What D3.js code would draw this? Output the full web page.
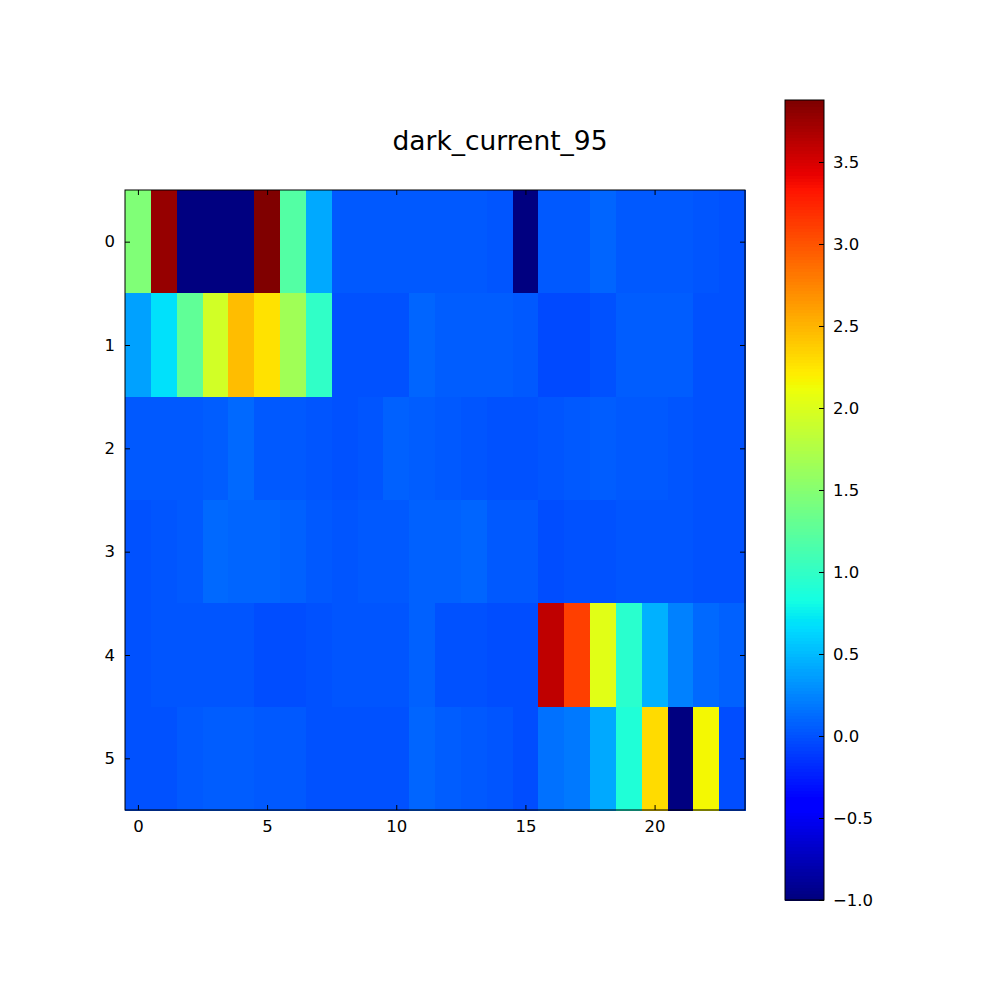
<!DOCTYPE html>
<html>
<head>
<meta charset="utf-8">
<script src="https://cdn.jsdelivr.net/npm/d3@7"></script>
<style>
  html, body { margin: 0; padding: 0; background: #fff; }
  svg text { font-family: "DejaVu Sans", sans-serif; fill: #000; }
</style>
</head>
<body>
<svg id="chart" width="1000" height="1000"></svg>
<script>
// ---- data ----
const title = "dark_current_95";
const xTickValues = [0, 5, 10, 15, 20];
const yTickValues = [0, 1, 2, 3, 4, 5];
const colorTicks = [-1.0, -0.5, 0.0, 0.5, 1.0, 1.5, 2.0, 2.5, 3.0, 3.5];
const vMin = -1.0;
const vMax = 3.878;

const row0 = [1.46, 3.77, -1.0, -1.0, -1.0, 3.878, 1.21, 0.42, 0.031, 0.031, 0.04, 0.04, 0.04, 0.031, 0.016, -1.0, 0.031, 0.031, 0.088, 0.031, 0.031, 0.031, 0.016, -0.008];
const row1 = [0.375, 0.68, 1.28, 1.94, 2.45, 2.26, 1.66, 0.99, -0.008, 0.002, 0.002, 0.088, 0.059, 0.059, 0.059, 0.031, -0.046, -0.046, -0.008, 0.059, 0.059, 0.059, 0.002, 0.002];
const row2 = [0.04, 0.04, 0.031, 0.059, 0.107, 0.031, 0.04, 0.016, 0.002, 0.016, 0.078, 0.059, 0.04, 0.016, 0.002, -0.008, 0.016, 0.031, 0.059, 0.04, 0.04, 0.016, 0.002, -0.008];
const row3 = [-0.008, 0.016, 0.031, 0.107, 0.088, 0.088, 0.078, 0.031, 0.016, 0.031, 0.04, 0.078, 0.078, 0.088, 0.04, 0.031, -0.027, -0.008, -0.008, 0.016, 0.016, 0.016, 0.002, 0.002];
const row4 = [0.002, 0.016, 0.016, 0.016, 0.016, -0.017, -0.027, -0.008, 0.016, 0.016, 0.016, 0.069, 0.002, 0.002, -0.017, -0.027, 3.61, 3.11, 2.03, 0.946, 0.452, 0.222, 0.107, 0.069];
const row5 = [-0.008, -0.008, 0.031, 0.05, 0.05, 0.031, 0.031, -0.008, -0.008, -0.008, 0.002, 0.088, 0.059, 0.031, 0.016, -0.017, 0.146, 0.184, 0.413, 0.90, 2.30, -1.0, 2.16, -0.027];
const rows = [row0, row1, row2, row3, row4, row5];

// ---- jet colormap (matplotlib segment data) ----
const jetR = [[0, 0], [0.35, 0], [0.66, 1], [0.89, 1], [1, 0.5]];
const jetG = [[0, 0], [0.125, 0], [0.375, 1], [0.64, 1], [0.91, 0], [1, 0]];
const jetB = [[0, 0.5], [0.11, 1], [0.34, 1], [0.65, 0], [1, 0]];
function seg(pts, t) {
  for (let i = 1; i < pts.length; i++) {
    if (t <= pts[i][0]) {
      const [x0, y0] = pts[i - 1], [x1, y1] = pts[i];
      return y0 + (y1 - y0) * (t - x0) / (x1 - x0);
    }
  }
  return pts[pts.length - 1][1];
}
function jet(t) {
  t = Math.max(0, Math.min(1, t));
  t = Math.min(255, Math.floor(t * 256)) / 255;
  const r = Math.round(255 * seg(jetR, t));
  const g = Math.round(255 * seg(jetG, t));
  const b = Math.round(255 * seg(jetB, t));
  return `rgb(${r},${g},${b})`;
}
const norm = d3.scaleLinear().domain([vMin, vMax]).range([0, 1]).clamp(true);
const color = v => jet(norm(v));

// ---- layout ----
const svg = d3.select("#chart");
const plot = { left: 125, right: 745, top: 190, bottom: 810 };
const cbar = { left: 785, right: 824, top: 100, bottom: 900 };
const nCols = row0.length, nRows = rows.length;

const x = d3.scaleLinear().domain([-0.5, nCols - 0.5]).range([plot.left, plot.right]);
const y = d3.scaleLinear().domain([-0.5, nRows - 0.5]).range([plot.top, plot.bottom]);
const cy = d3.scaleLinear().domain([vMin, vMax]).range([cbar.bottom, cbar.top]);

// title
svg.append("text")
  .attr("x", 500)
  .attr("y", 150)
  .attr("text-anchor", "middle")
  .style("font-size", "26.5px")
  .text(title);

// cells
const cells = [];
rows.forEach((r, i) => r.forEach((v, j) => cells.push({ i, j, v })));
svg.append("g").attr("shape-rendering", "crispEdges")
  .selectAll("rect").data(cells).join("rect")
  .attr("x", d => x(d.j - 0.5))
  .attr("y", d => y(d.i - 0.5))
  .attr("width", d => x(d.j + 0.5) - x(d.j - 0.5) + 0.5)
  .attr("height", d => y(d.i + 0.5) - y(d.i - 0.5) + 0.5)
  .attr("fill", d => color(d.v));

// axes (ticks inward, on all four sides)
const tl = 5;
const fmtMinus = d => String(d).replace("-", "\u2212");
function styleAxis(g) {
  g.select(".domain").remove();
  g.selectAll(".tick line").attr("stroke", "#000").attr("stroke-width", 1);
  g.selectAll(".tick text").style("font-size", "16.5px").style("font-family", "DejaVu Sans, sans-serif");
}
svg.append("g").attr("transform", `translate(0,${plot.bottom})`)
  .call(d3.axisBottom(x).tickValues(xTickValues).tickSizeInner(-tl).tickSizeOuter(0).tickPadding(10).tickFormat(fmtMinus))
  .call(styleAxis);
svg.append("g").attr("transform", `translate(0,${plot.top})`)
  .call(d3.axisTop(x).tickValues(xTickValues).tickSizeInner(-tl).tickSizeOuter(0).tickFormat(""))
  .call(styleAxis);
svg.append("g").attr("transform", `translate(${plot.left},0)`)
  .call(d3.axisLeft(y).tickValues(yTickValues).tickSizeInner(-tl).tickSizeOuter(0).tickPadding(10).tickFormat(fmtMinus))
  .call(styleAxis);
svg.append("g").attr("transform", `translate(${plot.right},0)`)
  .call(d3.axisRight(y).tickValues(yTickValues).tickSizeInner(-tl).tickSizeOuter(0).tickFormat(""))
  .call(styleAxis);

svg.append("rect")
  .attr("x", plot.left).attr("y", plot.top)
  .attr("width", plot.right - plot.left).attr("height", plot.bottom - plot.top)
  .attr("fill", "none").attr("stroke", "#000").attr("stroke-width", 1);

// colorbar
const nSteps = 256;
const steps = d3.range(nSteps).map(k => vMin + (vMax - vMin) * k / nSteps);
const stepH = (vMax - vMin) / nSteps;
svg.append("g").attr("shape-rendering", "crispEdges")
  .selectAll("rect").data(steps).join("rect")
  .attr("x", cbar.left)
  .attr("width", cbar.right - cbar.left)
  .attr("y", d => cy(d + stepH))
  .attr("height", d => cy(d) - cy(d + stepH) + 0.6)
  .attr("fill", d => color(d + stepH / 2));

svg.append("g").attr("transform", `translate(${cbar.right},0)`)
  .call(d3.axisRight(cy).tickValues(colorTicks).tickSizeInner(-tl).tickSizeOuter(0).tickPadding(9)
    .tickFormat(d => fmtMinus(d3.format(".1f")(d))))
  .call(styleAxis);

svg.append("rect")
  .attr("x", cbar.left).attr("y", cbar.top)
  .attr("width", cbar.right - cbar.left).attr("height", cbar.bottom - cbar.top)
  .attr("fill", "none").attr("stroke", "#000").attr("stroke-width", 1);
</script>
</body>
</html>
